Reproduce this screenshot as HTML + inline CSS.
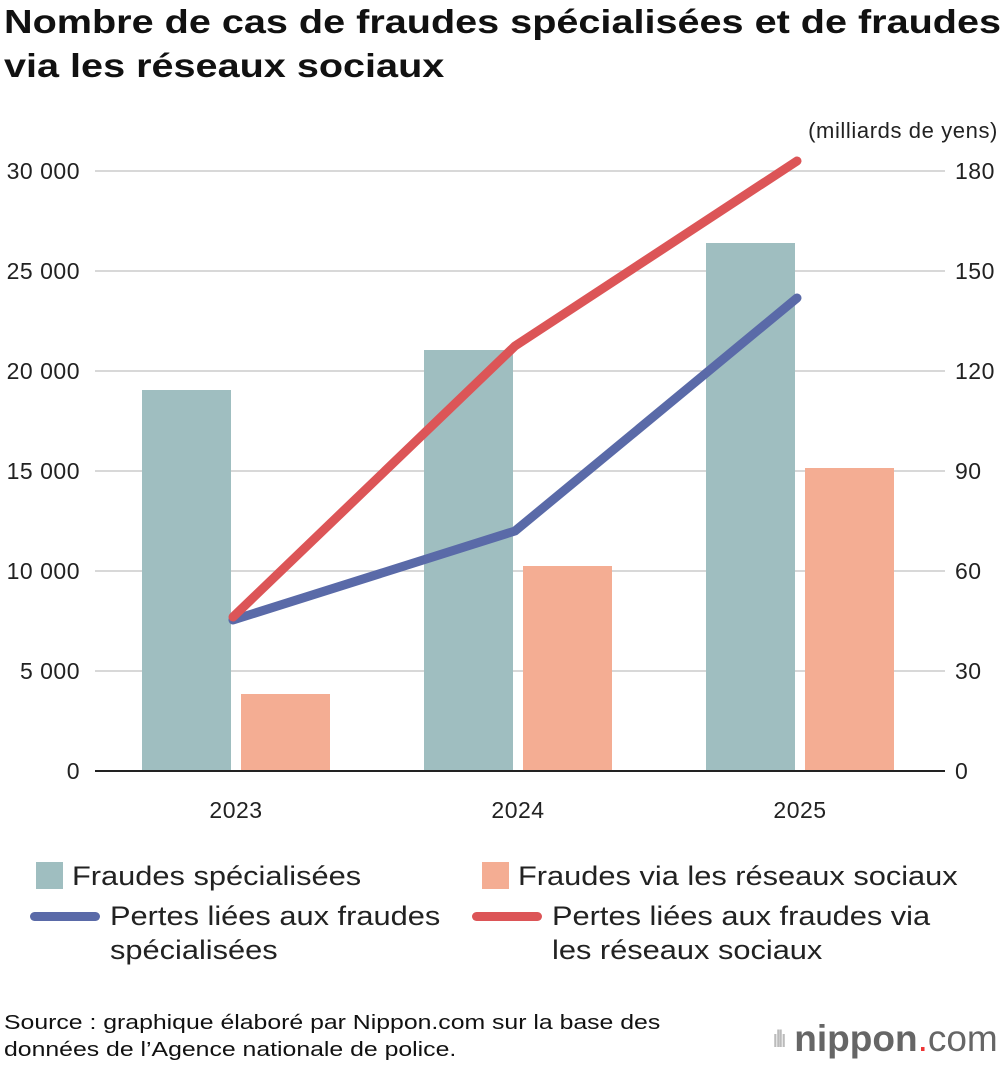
<!DOCTYPE html>
<html><head><meta charset="utf-8"><style>
body{margin:0;width:1000px;height:1068px;background:#fff;font-family:"Liberation Sans",Arial,sans-serif;overflow:hidden;position:relative}
.t{position:absolute;left:4px;top:0px;font-size:33px;font-weight:bold;line-height:44px;white-space:nowrap;color:#111;transform:scaleX(1.2);transform-origin:0 0}
svg{position:absolute;left:0;top:0}
.lg{position:absolute;font-size:27px;color:#222;line-height:34px;white-space:nowrap}
.sx{display:inline-block;transform:scaleX(1.14);transform-origin:0 0}
.src{position:absolute;left:4px;top:1010px;font-size:20px;line-height:27px;color:#111;white-space:nowrap;transform:scaleX(1.24);transform-origin:0 0}
</style></head><body>
<div class="t">Nombre de cas de fraudes spécialisées et de fraudes<br>via les réseaux sociaux</div>
<svg id="c" width="1000" height="1068"></svg>
<div class="lg" style="left:36px;top:859px"><span style="display:inline-block;width:27px;height:27px;background:#9fbec0;vertical-align:-4px;margin-right:9px"></span><span class="sx">Fraudes spécialisées</span></div>
<div class="lg" style="left:482px;top:859px"><span style="display:inline-block;width:27px;height:27px;background:#f4ad93;vertical-align:-4px;margin-right:9px"></span><span class="sx">Fraudes via les réseaux sociaux</span></div>
<div class="lg" style="left:30px;top:899px"><span style="position:absolute;left:0;top:13px;width:70px;height:9px;border-radius:5px;background:#5a6aa8"></span><div class="sx" style="margin-left:80px">Pertes liées aux fraudes<br>spécialisées</div></div>
<div class="lg" style="left:472px;top:899px"><span style="position:absolute;left:0;top:13px;width:70px;height:9px;border-radius:5px;background:#dc5557"></span><div class="sx" style="margin-left:80px">Pertes liées aux fraudes via<br>les réseaux sociaux</div></div>
<div class="src">Source : graphique élaboré par Nippon.com sur la base des<br>données de l’Agence nationale de police.</div>
<div style="position:absolute;left:772px;top:1018px;font-size:37px;color:#666;white-space:nowrap"><span style="font-size:24px;color:#bbb;letter-spacing:-3px;vertical-align:4px">ıllı</span> <b>nippon</b><span style="color:#e33">.</span>com</div>
<script>
const years=["2023","2024","2025"];
const specialized=[19050,21050,26400];
const social=[3850,10250,15150];
const lossSpecialized=[45.3,72,141.9];
const lossSocial=[46.2,127.5,183];
const leftTicks=[0,5000,10000,15000,20000,25000,30000];
const leftLabels=["0","5 000","10 000","15 000","20 000","25 000","30 000"];
const rightTicks=[0,30,60,90,120,150,180];
const NS="http://www.w3.org/2000/svg";
const svg=document.getElementById('c');
const yL=v=>771-v*600/30000;
const yR=v=>771-v*600/180;
const xC=i=>236+i*282;
function mk(t,a){const e=document.createElementNS(NS,t);for(const k in a)e.setAttribute(k,a[k]);svg.appendChild(e);return e;}
leftTicks.forEach((v,i)=>{
 const g=mk('line',{x1:95,x2:945,y1:yL(v),y2:yL(v),stroke:i==0?'#222':'#ccc','stroke-width':i==0?2:1.5});
 
 
 const t=mk('text',{x:80,y:yL(v)+8,'text-anchor':'end','font-size':23,fill:'#222','letter-spacing':0.5});t.textContent=leftLabels[i];
 
 
});
rightTicks.forEach(v=>{
 const t=mk('text',{x:955,y:yR(v)+8,'font-size':23,fill:'#222','letter-spacing':0.5});t.textContent=String(v);
 
 
});
const u=mk('text',{x:998,y:138,'text-anchor':'end','font-size':22,fill:'#222','letter-spacing':0.6});u.textContent='(milliards de yens)';


years.forEach((y,i)=>{
 const b1=mk('rect',{x:xC(i)-94,y:yL(specialized[i]),width:89,height:771-yL(specialized[i]),fill:'#9fbec0'});
 
 
 const b2=mk('rect',{x:xC(i)+5,y:yL(social[i]),width:89,height:771-yL(social[i]),fill:'#f4ad93'});
 
 
 const t=mk('text',{x:xC(i),y:818,'text-anchor':'middle','font-size':23,fill:'#222','letter-spacing':0.5});t.textContent=y;
 
 
});
mk('line',{x1:95,x2:945,y1:771,y2:771,stroke:'#222','stroke-width':2});
function line(d,c,n){
 const p=mk('polyline',{points:d.map((v,i)=>xC(i)-3+','+yR(v)).join(' '),fill:'none',stroke:c,'stroke-width':9,'stroke-linecap':'round','stroke-linejoin':'round'});
 
 
}
line(lossSpecialized,'#5a6aa8','line-losses-specialized');
line(lossSocial,'#dc5557','line-losses-social');
</script>
</body></html>
